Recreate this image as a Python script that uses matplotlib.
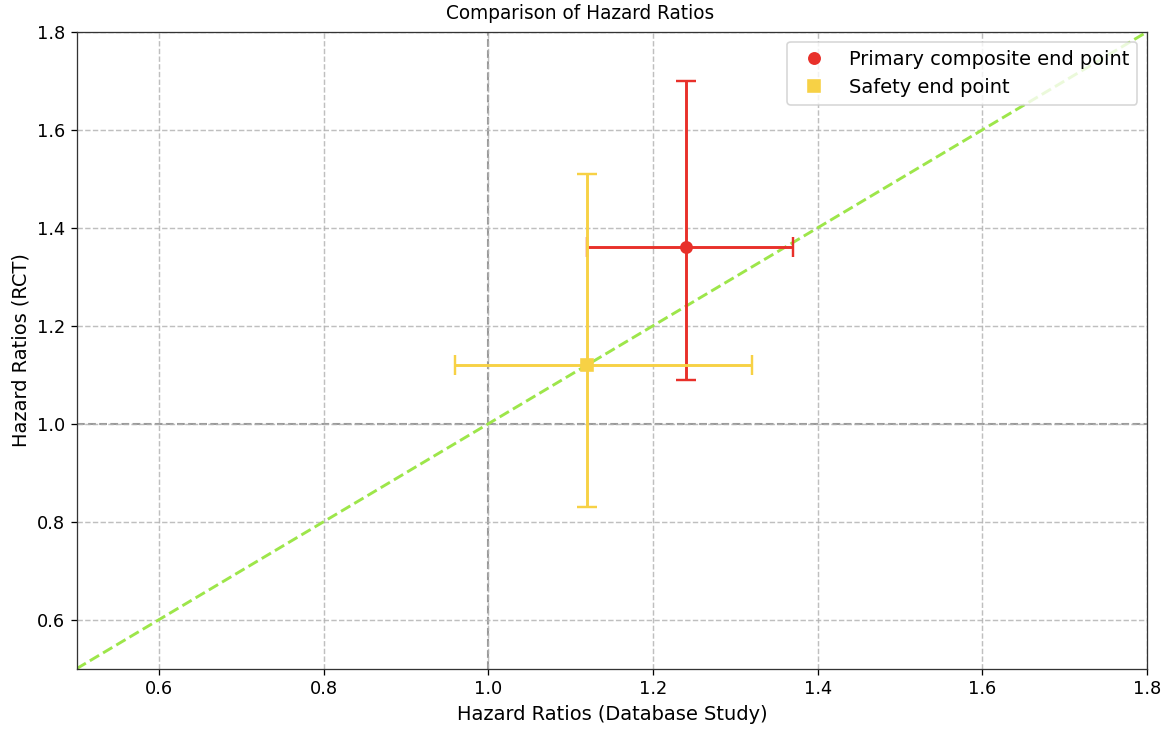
import matplotlib
import matplotlib.pyplot as plt

matplotlib.use('AGG')

# Hazard ratio estimates: database study (x) vs RCT (y)
labels = ["Primary composite end point", "Safety end point"]
hr_db = [1.24, 1.12]
hr_db_low = [1.12, 0.96]
hr_db_high = [1.37, 1.32]
hr_rct = [1.36, 1.12]
hr_rct_low = [1.09, 0.83]
hr_rct_high = [1.70, 1.51]
colors = ["#e8302a", "#f7d145"]
markers = ["o", "s"]

fig, ax = plt.subplots(figsize=(10, 6.29), dpi=116.1)

ax.axvline(1.0, color="gray", linestyle="--", linewidth=1.3, alpha=0.8, zorder=1)
ax.axhline(1.0, color="gray", linestyle="--", linewidth=1.3, alpha=0.8, zorder=1)

for i in range(len(labels)):
    xerr = [[hr_db[i] - hr_db_low[i]], [hr_db_high[i] - hr_db[i]]]
    yerr = [[hr_rct[i] - hr_rct_low[i]], [hr_rct_high[i] - hr_rct[i]]]
    ax.errorbar([hr_db[i]], [hr_rct[i]], xerr=xerr, yerr=yerr, fmt="none",
                ecolor=colors[i], elinewidth=1.8, capsize=6, capthick=1.5, zorder=3)
    ax.plot([hr_db[i]], [hr_rct[i]], linestyle="none", marker=markers[i],
            color=colors[i], markersize=7, label=labels[i], zorder=4)

# line of equality
ax.plot([0.5, 1.8], [0.5, 1.8], linestyle="--", color="#9de64a", linewidth=1.8, zorder=2)

ax.set_xlim(0.5, 1.8)
ax.set_ylim(0.5, 1.8)
ax.set_xticks([0.6, 0.8, 1.0, 1.2, 1.4, 1.6, 1.8])
ax.set_yticks([0.6, 0.8, 1.0, 1.2, 1.4, 1.6, 1.8])
ax.grid(True, linestyle="--", color="#b0b0b0", linewidth=0.9, alpha=0.8)

fig.suptitle("Comparison of Hazard Ratios", x=0.5, y=0.995, fontsize=11.5)
ax.set_xlabel("Hazard Ratios (Database Study)", fontsize=12)
ax.set_ylabel("Hazard Ratios (RCT)", fontsize=12)
ax.tick_params(labelsize=11)
for s in ax.spines.values():
    s.set_color("#333333")

ax.legend(loc="upper right", fontsize=12)

fig.subplots_adjust(left=0.066, right=0.988, top=0.956, bottom=0.084)
plt.savefig("out.png")
